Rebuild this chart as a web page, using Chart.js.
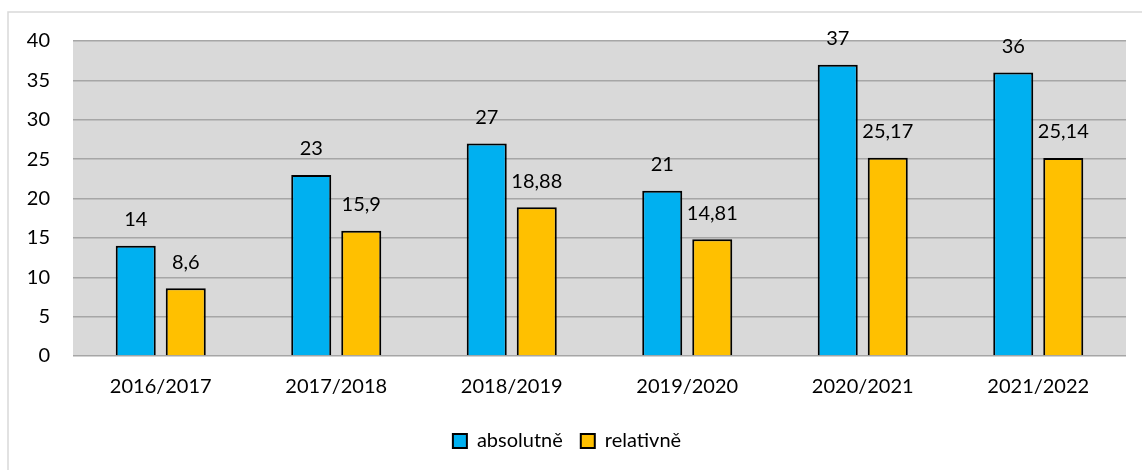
<!DOCTYPE html>
<html>
<head>
<meta charset="utf-8">
<script src="https://cdn.jsdelivr.net/npm/chart.js@4"></script>
<style>
html,body{margin:0;padding:0;background:#fff;}
#wrap{width:1142px;height:470px;position:relative;}
</style>
</head>
<body>
<div id="wrap"><canvas id="c" width="1142" height="470"></canvas></div>
<script>
const categories = ['2016/2017','2017/2018','2018/2019','2019/2020','2020/2021','2021/2022'];
const absolutne = [14, 23, 27, 21, 37, 36];
const relativne = [8.6, 15.9, 18.88, 14.81, 25.17, 25.14];
const seriesNames = ['absolutně', 'relativně'];
const yTicks = [0, 5, 10, 15, 20, 25, 30, 35, 40];

const FONT = 'Lato, "Noto Sans", sans-serif';
const FS = 20;
const fmt = v => String(v).replace('.', ',');

const bgPlugin = {
  id: 'bg',
  beforeDraw(chart) {
    const {ctx, chartArea: a} = chart;
    ctx.save();
    ctx.fillStyle = '#fff';
    ctx.fillRect(0, 0, chart.width, chart.height);
    ctx.strokeStyle = '#d9d9d9';
    ctx.lineWidth = 1.5;
    ctx.beginPath();
    ctx.moveTo(8, chart.height + 2);
    ctx.lineTo(8, 12);
    ctx.lineTo(chart.width + 2, 12);
    ctx.stroke();
    ctx.fillStyle = '#d9d9d9';
    ctx.fillRect(a.left, a.top, a.right - a.left, a.bottom - a.top);
    ctx.restore();
  }
};

const labelPlugin = {
  id: 'vals',
  afterDatasetsDraw(chart) {
    const ctx = chart.ctx;
    ctx.save();
    ctx.font = FS + 'px ' + FONT;
    ctx.fillStyle = '#000';
    ctx.textAlign = 'center';
    ctx.textBaseline = 'middle';
    chart.data.datasets.forEach((ds, i) => {
      chart.getDatasetMeta(i).data.forEach((bar, j) => {
        ctx.fillText(fmt(ds.data[j]), bar.x, bar.y - 26);
      });
    });
    ctx.restore();
  }
};

new Chart(document.getElementById('c'), {
  type: 'bar',
  data: {
    labels: categories,
    datasets: [
      {label: seriesNames[0], data: absolutne, backgroundColor: '#00b0f0', borderColor: '#000', borderWidth: 2},
      {label: seriesNames[1], data: relativne, backgroundColor: '#ffc000', borderColor: '#000', borderWidth: 2}
    ]
  },
  options: {
    responsive: false,
    animation: false,
    devicePixelRatio: 1,
    categoryPercentage: 0.57,
    barPercentage: 0.8,
    layout: {padding: {left: 8, right: 16, top: 41, bottom: 9}},
    plugins: {
      legend: {
        position: 'bottom',
        labels: {
          font: {size: FS, family: FONT},
          color: '#000',
          boxWidth: 14,
          boxHeight: 14,
          padding: 18,
          generateLabels(chart) {
            return chart.data.datasets.map((ds, i) => ({
              text: ds.label, fillStyle: ds.backgroundColor, strokeStyle: '#000',
              lineWidth: 2, datasetIndex: i, hidden: false, fontColor: '#000'
            }));
          }
        }
      },
      tooltip: {enabled: false}
    },
    scales: {
      x: {
        grid: {display: false, drawTicks: false},
        border: {display: false},
        ticks: {font: {size: FS, family: FONT}, color: '#000', padding: 19},
        afterFit(s) { s.height = 57; }
      },
      y: {
        min: 0, max: 40,
        afterBuildTicks(s) { s.ticks = yTicks.map(v => ({value: v})); },
        grid: {color: '#a6a6a6', lineWidth: 1.5, drawTicks: false},
        border: {display: false},
        ticks: {font: {size: FS, family: FONT}, color: '#000', padding: 23},
        afterFit(s) { s.width = 65; }
      }
    }
  },
  plugins: [bgPlugin, labelPlugin]
});
</script>
</body>
</html>
